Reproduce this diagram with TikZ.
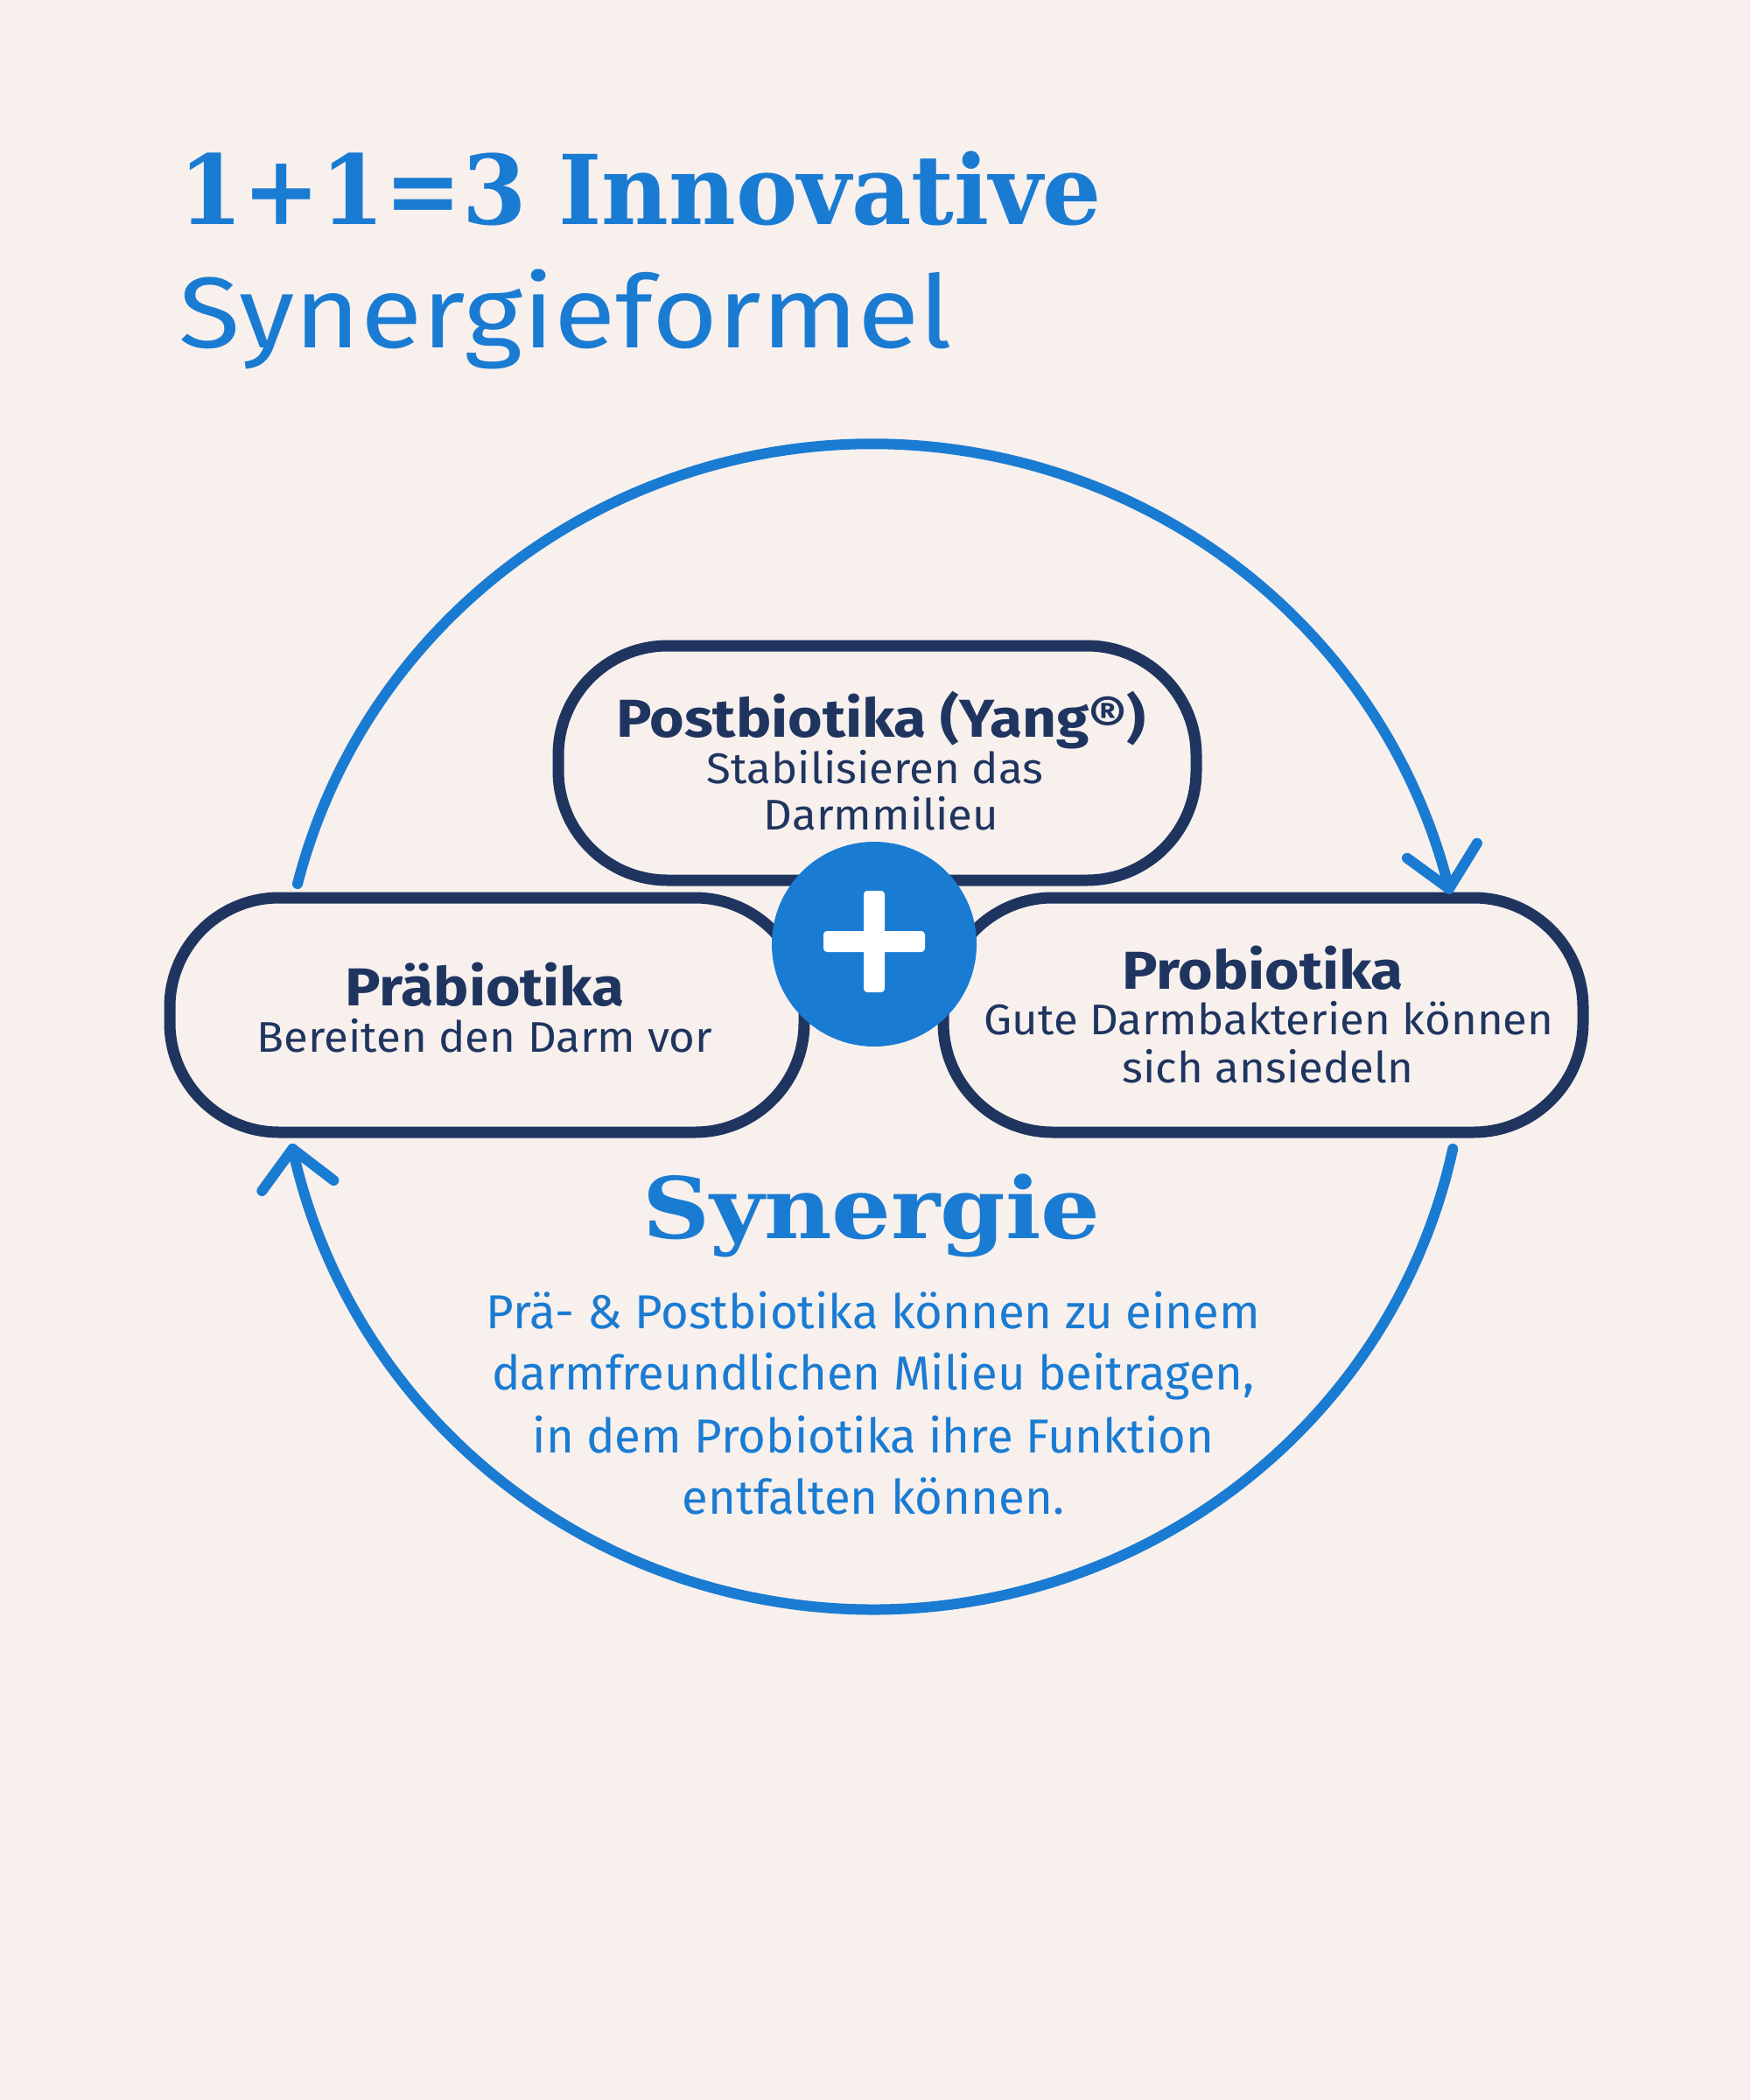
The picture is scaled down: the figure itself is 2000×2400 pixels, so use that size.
\documentclass[tikz,border=0pt]{standalone}
\usepackage{fontspec}
\setmainfont{Fira Sans}
\newfontfamily\slabA[FakeStretch=0.96]{DejaVu Serif}
\newfontfamily\slabB[FakeStretch=1.1]{DejaVu Serif}
\newfontfamily\sansT[FakeStretch=1.12]{Fira Sans}
\newfontfamily\sansH[FakeStretch=1.11]{Fira Sans}
\newfontfamily\sansB[FakeStretch=1.04]{Fira Sans}
\usetikzlibrary{calc}
\definecolor{bg}{HTML}{F7F0ED}
\definecolor{bblue}{HTML}{1A7BD2}
\definecolor{navy}{HTML}{1F3560}
\tikzset{
  pill/.style={draw=navy, line width=13pt, rounded corners=125pt, inner sep=0pt, minimum height=268pt},
  arcline/.style={draw=bblue, line width=12pt, line cap=round, line join=round},
  head/.style={anchor=base, text=navy, font=\fontsize{61}{66}\sansH\bfseries, inner sep=0pt},
  body/.style={anchor=base, text=navy, font=\fontsize{49}{54}\sansB, inner sep=0pt},
  para/.style={anchor=base, text=bblue, font=\fontsize{54.5}{60}\selectfont, inner sep=0pt},
}
\begin{document}
\begin{tikzpicture}[x=1pt,y=-1pt]
\fill[bg] (0,0) rectangle (2000,2400);
\useasboundingbox (0,0) rectangle (2000,2400);

% title
\node[anchor=base west, text=bblue, inner sep=0pt, font=\fontsize{110}{120}\slabA\bfseries] (t1) at (204,257) {1+1=3 Innovative};
\node[anchor=base west, text=bblue, inner sep=0pt, font=\fontsize{115}{125}\sansT] (t2) at (204,397) {Synergieformel};

% pills
\node[pill, minimum width=729pt] (post) at (1002.5,872) {};
\node[pill, minimum width=725pt] (prae) at (556.5,1160) {};
\node[pill, minimum width=731pt] (pro) at (1443.5,1160) {};

% big cycle arcs
\coordinate (C) at (997.3,1173.4);
\coordinate (a1s) at ($(C)+(194.2:678 and 666)$);
\coordinate (a1e) at ($(C)+(346.3:678 and 666)$);
\coordinate (a2s) at ($(C)+(12.1:678 and 666)$);
\coordinate (a2e) at ($(C)+(167.9:678 and 666)$);
\draw[arcline] (a1s) arc[start angle=194.2, end angle=346.3, x radius=678, y radius=666];
\draw[arcline] (a2s) arc[start angle=12.1, end angle=167.9, x radius=678, y radius=666];
\draw[arcline] ($(a1e)+(-48,-35)$) -- (a1e) -- ($(a1e)+(32,-52)$);
\draw[arcline] ($(a2e)+(-35,48)$) -- (a2e) -- ($(a2e)+(47,36)$);

% plus circle
\node[circle, fill=bblue, minimum size=234pt, inner sep=0pt] (plus) at (999,1079) {};
\fill[white, rounded corners=4pt] (941,1064) rectangle (1057,1088);
\fill[white, rounded corners=4pt] (987,1018) rectangle (1011,1134);

% pill texts
\node[head] (posth) at (1007,842) {Postbiotika (Yang®)};
\node[body] (postb1) at (1000,895) {Stabilisieren das};
\node[body] (postb2) at (1007,948) {Darmmilieu};
\node[head] (praeh) at (554,1149) {Präbiotika};
\node[body] (praeb) at (554,1202) {Bereiten den Darm vor};
\node[head] (proh) at (1443,1130) {Probiotika};
\node[body] (prob1) at (1450,1182) {Gute Darmbakterien können};
\node[body] (prob2) at (1449,1237) {sich ansiedeln};

% synergy
\node[anchor=base, text=bblue, inner sep=0pt, font=\fontsize{97}{105}\slabB\bfseries] (syn) at (996,1415) {Synergie};
\node[para] (p1) at (998,1518) {Prä- \& Postbiotika können zu einem};
\node[para] (p2) at (998,1588) {darmfreundlichen Milieu beitragen,};
\node[para] (p3) at (998,1660) {in dem Probiotika ihre Funktion};
\node[para] (p4) at (998,1730) {entfalten können.};
\end{tikzpicture}
\end{document}
